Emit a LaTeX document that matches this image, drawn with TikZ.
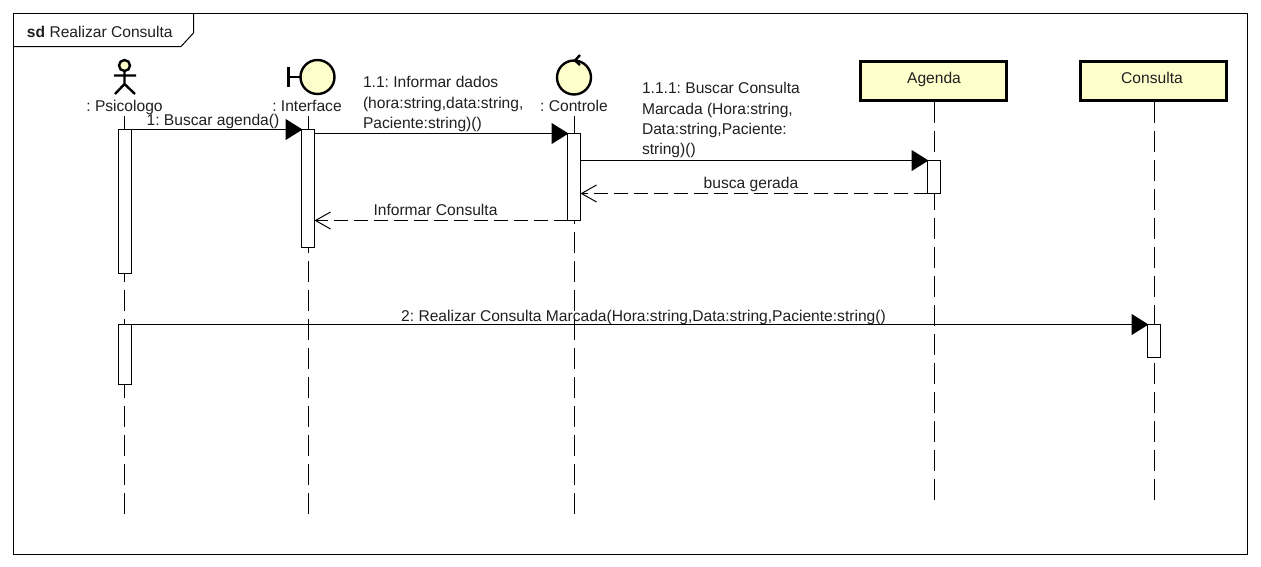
\documentclass[tikz,border=0pt]{standalone}
\usepackage{fontspec}
\setmainfont{Liberation Sans}
\usetikzlibrary{arrows.meta}
\definecolor{paley}{HTML}{FFFFCC}
\definecolor{ink}{HTML}{202020}
\frenchspacing
\tikzset{
 x=1pt,y=-1pt,
 every node/.style={inner sep=0pt,outer sep=0pt,text=ink,font=\frenchspacing\fontsize{15.6}{20.3}\selectfont},
 lifeline/.style={black,line width=1pt,dash pattern=on 21pt off 8pt},
 activation/.style={draw=black,fill=white,line width=1pt,minimum width=13pt,anchor=north},
 objbox/.style={draw=black,fill=paley,line width=3pt,minimum width=146pt,minimum height=39pt},
 symbol/.style={draw=black,fill=paley,line width=2.4pt},
 msg/.style={black,line width=1pt,shorten >=-1pt,-{Triangle[length=17pt,width=21pt]}},
 ret/.style={black,line width=1pt,dash pattern=on 14pt off 6pt,-{Straight Barb[length=15pt,width=17pt,line width=1pt]}},
 label/.style={anchor=base},
 multi/.style={align=left,anchor=north west},
}
\begin{document}
\begin{tikzpicture}
\useasboundingbox (0,0) rectangle (1261,566);
\fill[white] (0,0) rectangle (1261,566);
% frame
\draw[black,line width=1pt] (13.5,13.5) rectangle (1247.5,554.5);
\draw[black,line width=1pt] (13.5,46.5) -- (181,46.5) -- (193.5,33) -- (193.5,13.5);
\node[anchor=base west] (frametitle) at (27,37) {\textbf{sd} Realizar Consulta};
% lifeline heads
\coordinate (psiTop) at (124.5,116);
\coordinate (intTop) at (308.5,116);
\coordinate (conTop) at (574.5,116);
\coordinate (psiEnd) at (124.5,514);
\coordinate (intEnd) at (308.5,514);
\coordinate (conEnd) at (574.5,514);
\node[objbox] (agenda) at (933.5,80.5) {};
\node[objbox] (consulta) at (1153.5,80.5) {};
\node[anchor=base] at (934,83) {Agenda};
\node[anchor=base] at (1152,83) {Consulta};
\coordinate (ageEnd) at (934.5,500);
\coordinate (cnsEnd) at (1154.5,500);
% lifelines
\draw[lifeline,shorten <=2pt] (agenda.south -| ageEnd) -- (ageEnd);
\draw[lifeline,shorten <=2pt] (consulta.south -| cnsEnd) -- (cnsEnd);
\draw[lifeline] (psiTop) -- (psiEnd);
\draw[lifeline] (intTop) -- (intEnd);
\draw[lifeline] (conTop) -- (conEnd);
% actor
\draw[black,line width=2.4pt] (124.5,71) -- (124.5,84) (114,75.5) -- (136,75.5) (115,94) -- (124.5,84) -- (135,94);
\draw[symbol] (124.5,65.5) circle (5.5);
% boundary
\draw[black,line width=2.4pt] (288.5,67) -- (288.5,87) (288.5,77) -- (301,77);
\draw[symbol] (317.5,77) circle (17);
% control
\draw[symbol] (574,77.5) circle (17);
\draw[black,line width=2.4pt] (580,55) -- (575,60.5) -- (580,65);
% names
\node[anchor=base] (psiname) at (124.5,111) {: Psicologo};
\node[anchor=base] (intname) at (307,111) {: Interface};
\node[anchor=base] (conname) at (574,111) {: Controle};
% activations
\node[activation,minimum height=144pt] (aP1) at (125,129.5) {};
\node[activation,minimum height=60pt] (aP2) at (125,324.5) {};
\node[activation,minimum height=118pt] (aI) at (308,129.5) {};
\node[activation,minimum height=87pt] (aC) at (574,133.5) {};
\node[activation,minimum height=33pt] (aA) at (934,160.5) {};
\node[activation,minimum height=33pt] (aK) at (1154,324.5) {};
% messages
\draw[msg] (aP1.north east) -- (aI.north west);
\draw[msg] (aI.east |- aC.north) -- (aC.north west);
\draw[msg] (aC.east |- aA.north) -- (aA.north west);
\draw[ret] (aA.south west) -- (aC.east |- aA.south);
\draw[ret] (aC.south west) -- (aI.east |- aC.south);
\draw[msg] (aP2.north east) -- (aK.north west);
% labels
\node[label] (m1) at (213,125) {1: Buscar agenda()};
\node[multi] (m2) at (363,76.5) {1.1: Informar dados\\(hora:string,data:string,\\Paciente:string)()};
\node[multi] (m3) at (642,82.5) {1.1.1: Buscar Consulta\\Marcada (Hora:string,\\Data:string,Paciente:\\string)()};
\node[label] (m4) at (751,188) {busca gerada};
\node[label] (m5) at (435.5,215) {Informar Consulta};
\node[label] (m6) at (643.5,321) {2: Realizar Consulta Marcada(Hora:string,Data:string,Paciente:string()};
\end{tikzpicture}
\end{document}
